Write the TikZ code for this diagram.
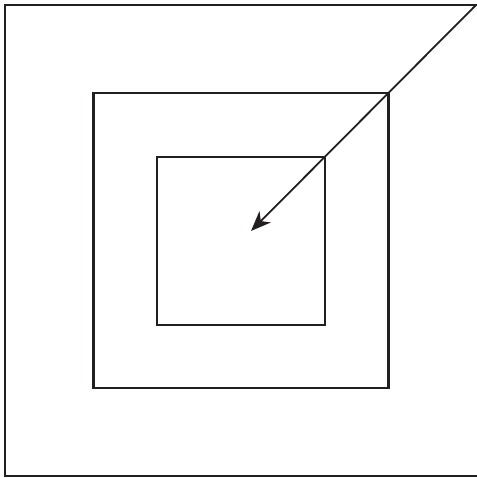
\documentclass[tikz,border=0pt]{standalone}
\usetikzlibrary{arrows.meta}
\definecolor{ink}{HTML}{231F20}

\begin{document}
\begin{tikzpicture}[x=1pt,y=-1pt,
    frame/.style={draw=ink,line width=2.4pt,inner sep=0pt,outer sep=0pt,minimum width=#1,minimum height=#1},
    pointer/.style={draw=ink,line width=1.8pt,-{Stealth[length=20pt,width=16pt,inset=6pt,fill=ink]}}]
  \useasboundingbox (0,0) rectangle (476,478);

  % outer frame runs past the right edge of the page
  \node[frame=471pt,minimum width=476pt] (outer) at (243,240.5) {};
  \node[frame=295pt] (middle) at (241,240.5) {};
  \node[frame=168pt] (inner)  at (241,241) {};

  \coordinate (corner) at (476,5);
  \coordinate (tip) at (251,231);
  \draw[pointer] (corner) -- (tip);
\end{tikzpicture}
\end{document}
